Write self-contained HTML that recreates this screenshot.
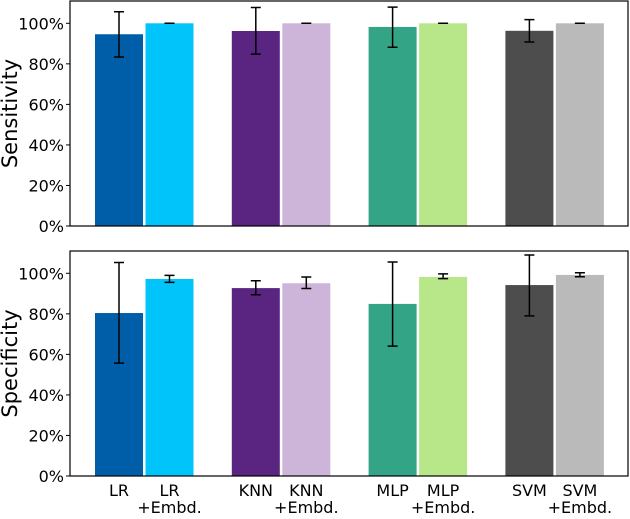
<!DOCTYPE html>
<html><head><meta charset="utf-8"><style>
html,body{margin:0;padding:0;background:#fff;}
svg text{font-family:"DejaVu Sans","Liberation Sans",sans-serif;fill:#000;}
</style></head><body>
<svg id="chart" width="630" height="514" xmlns="http://www.w3.org/2000/svg"></svg>
<script>
const categories = ["LR","LR\n+Embd.","KNN","KNN\n+Embd.","MLP","MLP\n+Embd.","SVM","SVM\n+Embd."];
const colors = ["#005ea8","#00c4fa","#5a2580","#cdb5da","#33a586","#b8e78a","#4d4d4d","#bababa"];
const sensValues = [94.6, 100, 96.2, 100, 98.2, 100, 96.3, 100];
const sensErrLow = [83.4, 100, 84.8, 100, 88.2, 100, 90.8, 100];
const sensErrHigh = [105.7, 100, 107.8, 100, 108.0, 100, 101.8, 100];
const specValues = [80.4, 97.2, 92.7, 95.1, 84.9, 98.2, 94.2, 99.2];
const specErrLow = [55.7, 95.5, 89.4, 92.5, 64.1, 97.4, 79.0, 98.3];
const specErrHigh = [105.3, 99.0, 96.3, 98.2, 105.6, 99.7, 109.0, 100.3];
const yTicks = [0,20,40,60,80,100];

const svg = document.getElementById('chart');
const NS = "http://www.w3.org/2000/svg";
function mk(tag, attrs){const e=document.createElementNS(NS,tag);for(const k in attrs)e.setAttribute(k,attrs[k]);svg.appendChild(e);return e;}
const left=70,right=628,pxPer=2.027;
function xCenter(i){const g=Math.floor(i/2),k=i%2;return 119+g*136.8+k*50.5;}
function panel(name,top,bottom,vals,lo,hi,title,showX){
  const y=v=>bottom-v*pxPer;
  for(let i=0;i<categories.length;i++){
    const b=mk('rect',{x:xCenter(i)-24,y:y(vals[i]),width:48,height:vals[i]*pxPer,fill:colors[i]});
    
    
    const cx=xCenter(i);
    const e=mk('path',{d:`M${cx},${y(lo[i])}V${y(hi[i])}M${cx-5},${y(lo[i])}H${cx+5}M${cx-5},${y(hi[i])}H${cx+5}`,stroke:'#000','stroke-width':1.5,fill:'none'});
    
    
  }
  const f=mk('rect',{x:left,y:top,width:right-left,height:bottom-top,fill:'none',stroke:'#000','stroke-width':1.2});
  
  
  yTicks.forEach(t=>{
    mk('line',{x1:left-4,x2:left,y1:y(t),y2:y(t),stroke:'#000'});
    const tx=mk('text',{x:left-6,y:y(t)+6,'text-anchor':'end','font-size':16});
    tx.textContent=t+'%';
    
    
  });
  const yt=mk('text',{x:0,y:0,'text-anchor':'middle','font-size':21,transform:`translate(17,${(top+bottom)/2}) rotate(-90)`});
  yt.textContent=title;
  
  
  if(showX){
    categories.forEach((c,i)=>{
      const lines=c.split('\n');
      lines.forEach((l,j)=>{
        const tx=mk('text',{x:xCenter(i),y:bottom+20+j*17,'text-anchor':'middle','font-size':16});
        tx.textContent=l;
        
        
      });
    });
  }
}
panel('sensitivity',1,226,sensValues,sensErrLow,sensErrHigh,'Sensitivity',false);
panel('specificity',251,476,specValues,specErrLow,specErrHigh,'Specificity',true);
</script>
</body></html>
